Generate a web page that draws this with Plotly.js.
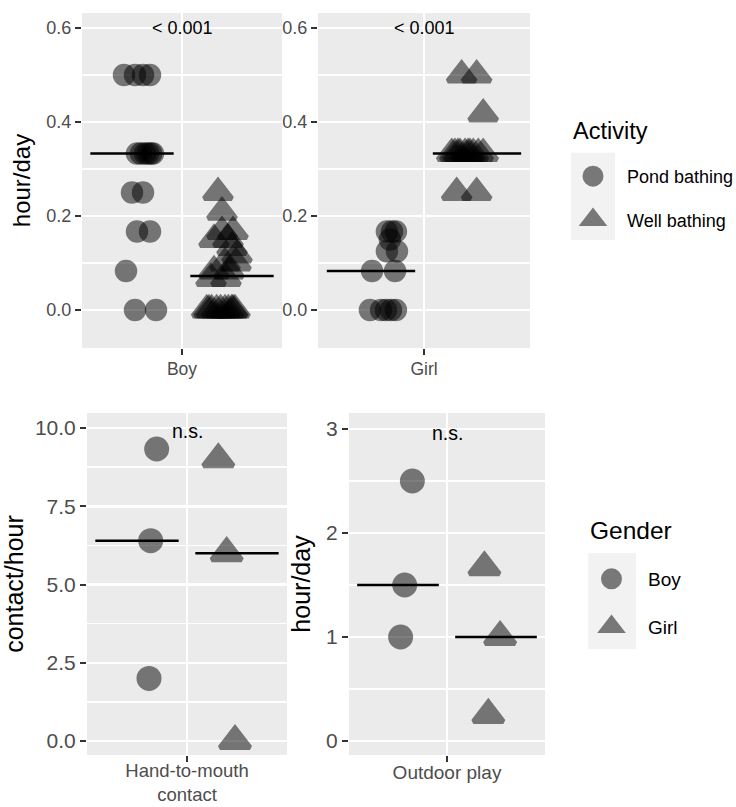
<!DOCTYPE html>
<html><head><meta charset="utf-8">
<script src="https://cdn.plot.ly/plotly-3.0.1.min.js"></script>
<style>html,body{margin:0;padding:0;background:#fff;}#chart{width:736px;height:807px;}</style>
</head><body><div id="chart"></div>
<script>
// ---------- DATA ----------
const topCategories = ['Boy', 'Girl'];
const activities = ['Pond bathing', 'Well bathing'];
const genders = ['Boy', 'Girl'];
const bottomCategories = ['Hand-to-mouth<br>contact', 'Outdoor play'];
const legendTitles = ['Activity', 'Gender'];

// Top row: bathing time (hour/day) by gender, grouped by activity
const boyPondY   = [0.5, 0.5, 0.5, 0.5, 0.333, 0.333, 0.333, 0.333, 0.333, 0.333, 0.25, 0.25, 0.167, 0.167, 0.083, 0, 0];
const boyPondJit = [-0.048, 0.018, 0.066, 0.108, 0.030, 0.054, 0.078, 0.096, 0.114, 0.126, 0.000, 0.066, 0.030, 0.108, -0.036, 0.018, 0.144];
const boyWellY   = [0.25, 0.208, 0.167, 0.167, 0.15, 0.15, 0.133, 0.117, 0.1, 0.1, 0.083, 0.083, 0.067, 0.067, 0, 0, 0, 0, 0, 0, 0, 0, 0, 0];
const boyWellJit = [-0.084, -0.060, -0.060, 0.006, -0.108, -0.024, 0.000, 0.030, -0.042, 0.024, -0.108, -0.018, -0.126, -0.036, -0.152, -0.138, -0.122, -0.092, -0.068, -0.042, -0.022, -0.002, 0.006, 0.018];
const girlPondY   = [0.167, 0.167, 0.167, 0.15, 0.125, 0.125, 0.083, 0.083, 0, 0, 0, 0, 0];
const girlPondJit = [0.090, 0.119, 0.141, 0.107, 0.090, 0.147, 0.006, 0.136, -0.006, 0.057, 0.085, 0.113, 0.141];
const girlWellY   = [0.5, 0.5, 0.417, 0.333, 0.333, 0.333, 0.333, 0.333, 0.333, 0.333, 0.333, 0.333, 0.333, 0.25, 0.25];
const girlWellJit = [-0.087, -0.002, 0.035, -0.143, -0.125, -0.108, -0.096, -0.068, -0.051, -0.040, -0.021, 0.007, 0.035, -0.115, -0.002];
const boyMedians  = [0.333, 0.072];   // pond, well
const girlMedians = [0.083, 0.333];
const topLabels = ['< 0.001', '< 0.001'];

// Bottom row: by gender
const handBoyY = [9.33, 6.4, 2.0];
const handBoyJit = [0.118, 0.082, 0.072];
const handGirlY = [9.0, 6.0, 0.0];
const handGirlJit = [-0.112, -0.062, -0.012];
const outBoyY = [2.5, 1.5, 1.0];
const outBoyJit = [0.088, 0.041, 0.016];
const outGirlY = [1.67, 1.0, 0.25];
const outGirlJit = [-0.071, 0.025, -0.047];
const handMedians = [6.4, 6.0];
const outMedians = [1.5, 1.0];
const bottomLabels = ['n.s.', 'n.s.'];

// ---------- STYLE / LAYOUT ----------
const W = 736, H = 807;
const FONT = 'Liberation Sans, Arial, Helvetica, sans-serif';
const DODGE = [0.7, 1.3];
const HALF = 0.25;
const fx = (a, b) => [a / W, b / W];
const fy = (top, bottom) => [1 - bottom / H, 1 - top / H];

function pts(xa, ya, center, jit, y, symbol, size, name, legend, show) {
  return {
    type: 'scatter', mode: 'markers', xaxis: xa, yaxis: ya,
    x: jit.map(j => center + j), y: y, name: name, legend: legend,
    showlegend: show, legendgroup: legend + name,
    marker: {symbol: symbol, size: size, color: '#000000', opacity: 0.5, line: {width: 5, color: '#000000'}},
    hoverinfo: 'skip'
  };
}
function med(xa, ya, center, m) {
  return {
    type: 'scatter', mode: 'lines', xaxis: xa, yaxis: ya,
    x: [center - HALF, center + HALF], y: [m, m],
    line: {color: '#000000', width: 2.5}, showlegend: false, hoverinfo: 'skip'
  };
}

const traces = [
  pts('x', 'y', DODGE[0], boyPondJit, boyPondY, 'circle', 17.5, activities[0], 'legend', true),
  pts('x', 'y', DODGE[1], boyWellJit, boyWellY, 'triangle-up', 24, activities[1], 'legend', true),
  med('x', 'y', DODGE[0], boyMedians[0]), med('x', 'y', DODGE[1], boyMedians[1]),
  pts('x2', 'y2', DODGE[0], girlPondJit, girlPondY, 'circle', 17.5, activities[0], 'legend', false),
  pts('x2', 'y2', DODGE[1], girlWellJit, girlWellY, 'triangle-up', 24, activities[1], 'legend', false),
  med('x2', 'y2', DODGE[0], girlMedians[0]), med('x2', 'y2', DODGE[1], girlMedians[1]),
  pts('x3', 'y3', DODGE[0], handBoyJit, handBoyY, 'circle', 20, genders[0], 'legend2', true),
  pts('x3', 'y3', DODGE[1], handGirlJit, handGirlY, 'triangle-up', 26, genders[1], 'legend2', true),
  med('x3', 'y3', DODGE[0], handMedians[0]), med('x3', 'y3', DODGE[1], handMedians[1]),
  pts('x4', 'y4', DODGE[0], outBoyJit, outBoyY, 'circle', 20, genders[0], 'legend2', false),
  pts('x4', 'y4', DODGE[1], outGirlJit, outGirlY, 'triangle-up', 26, genders[1], 'legend2', false),
  med('x4', 'y4', DODGE[0], outMedians[0]), med('x4', 'y4', DODGE[1], outMedians[1])
];

function xAxis(domain, anchor, label, fs, standoff) {
  return {
    domain: domain, anchor: anchor, range: [0.4, 1.6],
    tickmode: 'array', tickvals: [1], ticktext: [label],
    showgrid: true, gridcolor: '#FFFFFF', gridwidth: 2.5, zeroline: false, showline: false,
    ticks: 'outside', ticklen: 6, tickwidth: 2, tickcolor: '#333333', ticklabelstandoff: standoff,
    tickfont: {family: FONT, size: fs, color: '#4D4D4D'}, fixedrange: true
  };
}
function yAxis(domain, anchor, range, vals, texts, minorVals, fs, title, tsize, standoff) {
  const ax = {
    domain: domain, anchor: anchor, range: range,
    tickmode: 'array', tickvals: vals, ticktext: texts,
    showgrid: true, gridcolor: '#FFFFFF', gridwidth: 2.5, zeroline: false, showline: false,
    ticks: 'outside', ticklen: 6, tickwidth: 2, tickcolor: '#333333',
    tickfont: {family: FONT, size: fs, color: '#4D4D4D'}, fixedrange: true,
    minor: {tickmode: 'array', tickvals: minorVals, showgrid: true, gridcolor: '#FFFFFF', gridwidth: 1.3, ticks: ''}
  };
  if (title) ax.title = {text: title, font: {family: FONT, size: tsize, color: '#000000'}, standoff: standoff};
  return ax;
}

const topY = fy(13, 348), botY = fy(413, 755);
const legTitleFont = s => ({family: FONT, size: s, color: '#000000'});
const layout = {
  width: W, height: H, margin: {l: 0, r: 0, t: 0, b: 0, autoexpand: false},
  paper_bgcolor: '#FFFFFF', plot_bgcolor: '#EBEBEB',
  font: {family: FONT, color: '#000000'},
  showlegend: true, hovermode: false,
  xaxis:  xAxis(fx(82, 282), 'y', topCategories[0], 17.5, -1),
  xaxis2: xAxis(fx(318, 530), 'y2', topCategories[1], 17.5, -1),
  xaxis3: xAxis(fx(87, 287), 'y3', bottomCategories[0], 18.5, -7),
  xaxis4: xAxis(fx(349, 545), 'y4', bottomCategories[1], 19, -6),
  yaxis:  yAxis(topY, 'x', [-0.081, 0.632], [0, 0.2, 0.4, 0.6], ['0.0', '0.2', '0.4', '0.6'], [0.1, 0.3, 0.5], 18, 'hour/day', 24, 8),
  yaxis2: yAxis(topY, 'x2', [-0.081, 0.632], [0, 0.2, 0.4, 0.6], ['0.0', '0.2', '0.4', '0.6'], [0.1, 0.3, 0.5], 18, null),
  yaxis3: yAxis(botY, 'x3', [-0.447, 10.479], [0, 2.5, 5, 7.5, 10], ['0.0', '2.5', '5.0', '7.5', '10.0'], [1.25, 3.75, 6.25, 8.75], 21, 'contact/hour', 25, 8),
  yaxis4: yAxis(botY, 'x4', [-0.135, 3.154], [0, 1, 2, 3], ['0', '1', '2', '3'], [0.5, 1.5, 2.5], 21, 'hour/day', 25, 8),
  annotations: [
    {xref: 'x', yref: 'y', x: 1, y: 0.6, text: topLabels[0].replace('<', '&lt;'), showarrow: false, font: {family: FONT, size: 18, color: '#000000'}},
    {xref: 'x2', yref: 'y2', x: 1, y: 0.6, text: topLabels[1].replace('<', '&lt;'), showarrow: false, font: {family: FONT, size: 18, color: '#000000'}},
    {xref: 'x3', yref: 'y3', x: 1, y: 9.9, text: bottomLabels[0], showarrow: false, font: {family: FONT, size: 19.5, color: '#000000'}},
    {xref: 'x4', yref: 'y4', x: 1, y: 2.965, text: bottomLabels[1], showarrow: false, font: {family: FONT, size: 19.5, color: '#000000'}},
    // legend titles
    {xref: 'paper', yref: 'paper', x: 571 / W, y: 1 - 131 / H, xanchor: 'left', yanchor: 'middle', text: legendTitles[0], showarrow: false, font: legTitleFont(23.5)},
    {xref: 'paper', yref: 'paper', x: 588 / W, y: 1 - 530 / H, xanchor: 'left', yanchor: 'middle', text: legendTitles[1], showarrow: false, font: legTitleFont(24.5)}
  ],
  shapes: [
    {type: 'rect', xref: 'paper', yref: 'paper', x0: 571 / W, x1: 615 / W, y0: 1 - 240 / H, y1: 1 - 152.7 / H, fillcolor: '#F2F2F2', line: {width: 0}, layer: 'above'},
    {type: 'rect', xref: 'paper', yref: 'paper', x0: 588.3 / W, x1: 636 / W, y0: 1 - 649.3 / H, y1: 1 - 553.3 / H, fillcolor: '#F2F2F2', line: {width: 0}, layer: 'above'}
  ],
  legend: {
    x: 559 / W, y: 1 - 158 / H, xanchor: 'left', yanchor: 'top', bgcolor: 'rgba(0,0,0,0)', borderwidth: 0,
    font: {family: FONT, size: 18, color: '#000000'}, tracegroupgap: 17, itemwidth: 58, itemclick: false, itemdoubleclick: false
  },
  legend2: {
    x: 575 / W, y: 1 - 560 / H, xanchor: 'left', yanchor: 'top', bgcolor: 'rgba(0,0,0,0)', borderwidth: 0,
    font: {family: FONT, size: 19, color: '#000000'}, tracegroupgap: 20, itemwidth: 63, itemclick: false, itemdoubleclick: false
  }
};

Plotly.newPlot('chart', traces, layout, {displayModeBar: false, staticPlot: true});
</script></body></html>
